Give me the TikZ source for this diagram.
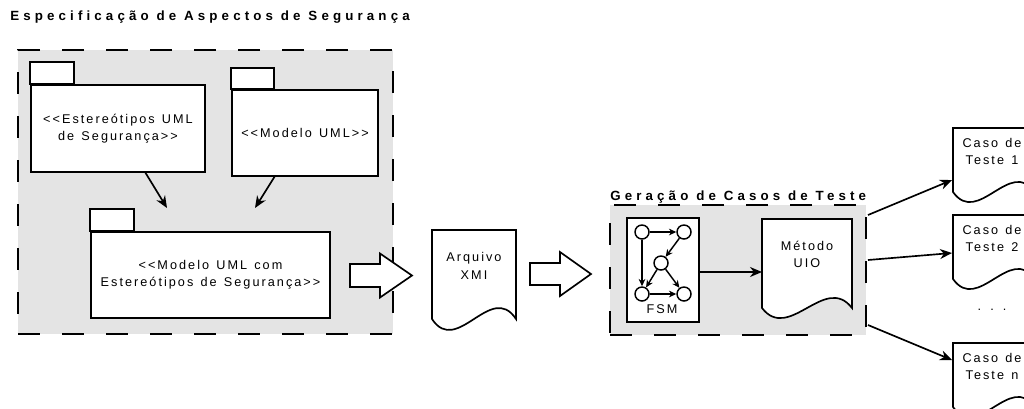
\documentclass[tikz,border=0pt]{standalone}
\usepackage{fontspec}
\setmainfont{Liberation Sans}[Ligatures=TeXOff]
\newfontfamily\spacedfont[LetterSpace=16,WordSpace=1.3,Ligatures=TeXOff]{Liberation Sans}
\newfontfamily\titlefont[LetterSpace=31,Ligatures=TeXOff]{Liberation Sans}
\usetikzlibrary{arrows.meta}
\definecolor{groupgrey}{RGB}{228,228,228}

\tikzset{
  lbl/.style={font=\spacedfont\fontsize{9.5}{13}\selectfont, align=center, inner sep=0pt},
  grouptitle/.style={font=\titlefont\bfseries\fontsize{10}{11}\selectfont, anchor=west, inner sep=0pt},
  group/.style={rectangle, fill=groupgrey, draw=black, line width=1.8pt, dash pattern=on 16.5pt off 16.5pt, inner sep=0pt},
  pkg/.style={rectangle, draw, fill=white, line width=1.25pt, inner sep=0pt, font=\spacedfont\fontsize{9.5}{13}\selectfont, align=center},
  docline/.style={draw, fill=white, line width=1.25pt},
  blockarrow/.style={draw, fill=white, line width=1.25pt, line join=miter},
  arr/.style={line width=1.25pt, -{Stealth[length=9pt,width=7.5pt]}},
  state/.style={circle, draw, fill=white, line width=1.1pt, minimum size=10.5pt, inner sep=0pt},
  tr/.style={line width=1.1pt, -{Stealth[length=5.5pt,width=5pt]}}
}

\begin{document}
\begin{tikzpicture}[x=0.75pt,y=0.75pt,yscale=-1,xscale=1]
\useasboundingbox[fill=white] (0,0) rectangle (1024,408);

% Group boxes
\node[group, minimum width=281.25pt, minimum height=213pt] (spec) at (205.5,192) {};
\node[group, minimum width=192pt, minimum height=97.5pt] (gen) at (738,270) {};

% Titles
\node[grouptitle] (spectitle) at (10,17) {Especificação de Aspectos de Segurança};
\node[grouptitle] (gentitle) at (610,197) {Geração de Casos de Teste};

% Packages
\node[pkg, minimum width=130.5pt, minimum height=65.25pt] (stereo) at (118,128.5) {<<Estereótipos UML\\de Segurança>>};
\draw[pkg] (stereo.north west) rectangle ++(44,-22);
\node[pkg, minimum width=109.5pt, minimum height=64.5pt] (uml) at (305,133) {<<Modelo UML>>};
\draw[pkg] (uml.north west) rectangle ++(43,-21);
\node[pkg, minimum width=179.25pt, minimum height=64.5pt] (umlsec) at (210.5,275) {<<Modelo UML com\\Estereótipos de Segurança>>};
\draw[pkg] (umlsec.north west) rectangle ++(44,-22);

%Straight Lines
\coordinate (out1) at (145,172);
\coordinate (in1) at (167,208);
\coordinate (out2) at (275,176);
\coordinate (in2) at (255,208);
\draw[arr] (out1) -- (in1);
\draw[arr] (out2) -- (in2);

% Block arrows
\draw[blockarrow] (350,264) -- (380,264) -- (380,253.5) -- (412,275.5) -- (380,297.5) -- (380,287) -- (350,287) -- cycle;
\draw[blockarrow] (530,263) -- (560,263) -- (560,252) -- (591,274) -- (560,296) -- (560,285) -- (530,285) -- cycle;

% Documents
\draw[docline] (432,230) -- (516,230) -- (516,319) .. controls (491,281) and (457,357) .. (432,319) -- cycle;
\draw[docline] (762,219) -- (852,219) -- (852,308) .. controls (825,273) and (789,343) .. (762,308) -- cycle;
\draw[docline] (953,128) -- (1035,128) -- (1035,192) .. controls (1010,157) and (978,227) .. (953,192) -- cycle;
\draw[docline] (953,215) -- (1035,215) -- (1035,279) .. controls (1010,244) and (978,314) .. (953,279) -- cycle;
\draw[docline] (953,343) -- (1035,343) -- (1035,407) .. controls (1010,372) and (978,442) .. (953,407) -- cycle;

% Text Node
\node[lbl] (xmi) at (474,266) {Arquivo\\XMI};
\node[lbl] (uio) at (807,254.5) {Método\\UIO};
\node[lbl] (tc1) at (992,151.5) {Caso de\\Teste 1};
\node[lbl] (tc2) at (992,238.5) {Caso de\\Teste 2};
\node[lbl] (dots) at (992,310) {. . .};
\node[lbl] (tcn) at (992,366.5) {Caso de\\Teste n};

% FSM
\node[pkg, minimum width=54pt, minimum height=78pt] (fsm) at (663,270) {};
\node[state] (s1) at (642,232) {};
\node[state] (s2) at (684,232) {};
\node[state] (s3) at (661,263) {};
\node[state] (s4) at (642,294) {};
\node[state] (s5) at (684,294) {};
\draw[tr] (s1) -- (s2);
\draw[tr] (s2) -- (s3);
\draw[tr] (s1) -- (s4);
\draw[tr] (s3) -- (s4);
\draw[tr] (s3) -- (s5);
\draw[tr] (s4) -- (s5);
\node[lbl] (fsmlbl) at (662,309) {FSM};

%Straight Lines
\coordinate (uiow) at (762,272);
\draw[arr] (fsm.east |- uiow) -- (uiow);
\coordinate (g1) at (868,215);
\coordinate (g2) at (868,260);
\coordinate (g3) at (868,325);
\coordinate (d1) at (952,180);
\coordinate (d2) at (952,253);
\coordinate (d3) at (952,360);
\draw[arr] (g1) -- (d1);
\draw[arr] (g2) -- (d2);
\draw[arr] (g3) -- (d3);

\end{tikzpicture}
\end{document}
